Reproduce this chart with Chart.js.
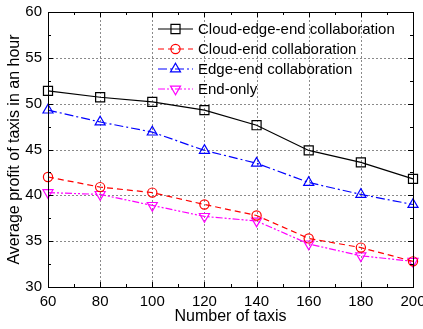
<!DOCTYPE html>
<html>
<head>
<meta charset="utf-8">
<script src="https://cdn.jsdelivr.net/npm/chart.js@4"></script>
<style>
  html, body { margin: 0; padding: 0; background: #fff; }
  #wrap { width: 423px; height: 329px; }
</style>
</head>
<body>
<div id="wrap"><canvas id="profitChart" width="423" height="329"></canvas></div>
<script>
const taxis = [60, 80, 100, 120, 140, 160, 180, 200];
const cloudEdgeEnd = [51.4, 50.7, 50.2, 49.3, 47.65, 44.9, 43.6, 41.8];
const cloudEnd = [42.0, 40.9, 40.3, 39.0, 37.8, 35.3, 34.3, 32.8];
const edgeEnd = [49.3, 48.0, 46.9, 44.9, 43.5, 41.4, 40.1, 39.0];
const endOnly = [40.3, 40.1, 38.9, 37.7, 37.2, 34.7, 33.4, 32.8];
const xTicks = [60, 80, 100, 120, 140, 160, 180, 200];
const yTicks = [30, 35, 40, 45, 50, 55, 60];

const FONT = '"Liberation Sans", Arial, sans-serif';

function pts(ys) {
  return taxis.map((x, i) => ({ x: x, y: ys[i] }));
}

function series(label, ys, color, dash, style, radius, rotation) {
  return {
    label: label,
    data: pts(ys),
    borderColor: color,
    borderWidth: 1.2,
    borderDash: dash,
    backgroundColor: 'transparent',
    pointStyle: style,
    pointRadius: radius,
    pointRotation: rotation || 0,
    pointBorderColor: color,
    pointBackgroundColor: 'transparent',
    pointBorderWidth: 1.2,
    tension: 0,
    clip: false
  };
}

const datasets = [
  series('Cloud-edge-end collaboration', cloudEdgeEnd, '#000000', [], 'rect', 6.4),
  series('Cloud-end collaboration', cloudEnd, '#ff0000', [6, 4], 'circle', 4.6),
  series('Edge-end collaboration', edgeEnd, '#0000ff', [9, 3, 2, 3], 'triangle', 5.8),
  series('End-only', endOnly, '#ff00ff', [7, 2, 2, 2, 2, 2], 'triangle', 5.8, 180)
];

// dashed grid under the lines, frame + inward ticks + legend on top
const framePlugin = {
  id: 'frame',
  beforeDatasetsDraw(chart) {
    const { ctx, chartArea: a, scales: { x, y } } = chart;
    ctx.save();
    ctx.strokeStyle = '#8a8a8a';
    ctx.lineWidth = 1;
    ctx.setLineDash([2, 2]);
    xTicks.forEach(v => {
      const px = Math.round(x.getPixelForValue(v)) + 0.5;
      ctx.beginPath(); ctx.moveTo(px, a.top); ctx.lineTo(px, a.bottom); ctx.stroke();
    });
    yTicks.forEach(v => {
      const py = Math.round(y.getPixelForValue(v)) + 0.5;
      ctx.beginPath(); ctx.moveTo(a.left, py); ctx.lineTo(a.right, py); ctx.stroke();
    });
    ctx.restore();
  },
  afterDatasetsDraw(chart) {
    const { ctx, chartArea: a, scales: { x, y } } = chart;
    ctx.save();
    ctx.strokeStyle = '#000';
    ctx.lineWidth = 1;
    ctx.setLineDash([]);
    ctx.strokeRect(Math.round(a.left) + 0.5, Math.round(a.top) + 0.5,
      Math.round(a.right - a.left), Math.round(a.bottom - a.top));

    ctx.beginPath();
    for (let v = 60; v <= 200; v += 10) {
      const px = Math.round(x.getPixelForValue(v)) + 0.5;
      const len = v % 20 === 0 ? 5 : 3;
      ctx.moveTo(px, a.bottom); ctx.lineTo(px, a.bottom - len);
      ctx.moveTo(px, a.top); ctx.lineTo(px, a.top + len);
    }
    for (let v = 30; v <= 60; v += 2.5) {
      const py = Math.round(y.getPixelForValue(v)) + 0.5;
      const len = v % 5 === 0 ? 5 : 3;
      ctx.moveTo(a.left, py); ctx.lineTo(a.left + len, py);
      ctx.moveTo(a.right, py); ctx.lineTo(a.right - len, py);
    }
    ctx.stroke();

    // legend
    ctx.font = '15px ' + FONT;
    ctx.textBaseline = 'middle';
    ctx.textAlign = 'left';
    chart.data.datasets.forEach((ds, i) => {
      const ly = 29 + i * 20;
      ctx.strokeStyle = ds.borderColor;
      ctx.lineWidth = 1.2;
      ctx.setLineDash(ds.borderDash);
      ctx.beginPath(); ctx.moveTo(158, ly); ctx.lineTo(193, ly); ctx.stroke();
      ctx.setLineDash([]);
      ctx.fillStyle = 'rgba(0,0,0,0)';
      Chart.helpers.drawPoint(ctx, {
        pointStyle: ds.pointStyle,
        rotation: ds.pointRotation,
        radius: ds.pointRadius,
        borderWidth: 1.2
      }, 175.5, ly);
      ctx.fillStyle = '#000';
      ctx.fillText(ds.label, 198, ly + 1);
    });

    // axis titles
    ctx.font = '16px ' + FONT;
    ctx.textAlign = 'center';
    ctx.fillText('Number of taxis', (a.left + a.right) / 2, 317);
    ctx.translate(15, (a.top + a.bottom) / 2);
    ctx.rotate(-Math.PI / 2);
    ctx.fillText('Average profit of taxis in an hour', 0, 0);
    ctx.restore();
  }
};

new Chart(document.getElementById('profitChart'), {
  type: 'line',
  data: { datasets: datasets },
  options: {
    responsive: false,
    animation: false,
    layout: { padding: { left: 0, top: 12, right: 10, bottom: 0 } },
    plugins: { legend: { display: false }, tooltip: { enabled: false } },
    scales: {
      x: {
        type: 'linear',
        min: 60, max: 200,
        grid: { display: false, drawTicks: false },
        border: { display: false },
        ticks: {
          stepSize: 20, color: '#000', padding: 6,
          font: { family: FONT, size: 15 }
        },
        afterFit(s) { s.height = 42; s.paddingLeft = 0; s.paddingRight = 0; }
      },
      y: {
        min: 30, max: 60,
        grid: { display: false, drawTicks: false },
        border: { display: false },
        ticks: {
          stepSize: 5, color: '#000', padding: 6,
          font: { family: FONT, size: 15 }
        },
        afterFit(s) { s.width = 48; s.paddingTop = 0; s.paddingBottom = 0; }
      }
    }
  },
  plugins: [framePlugin]
});
</script>
</body>
</html>
